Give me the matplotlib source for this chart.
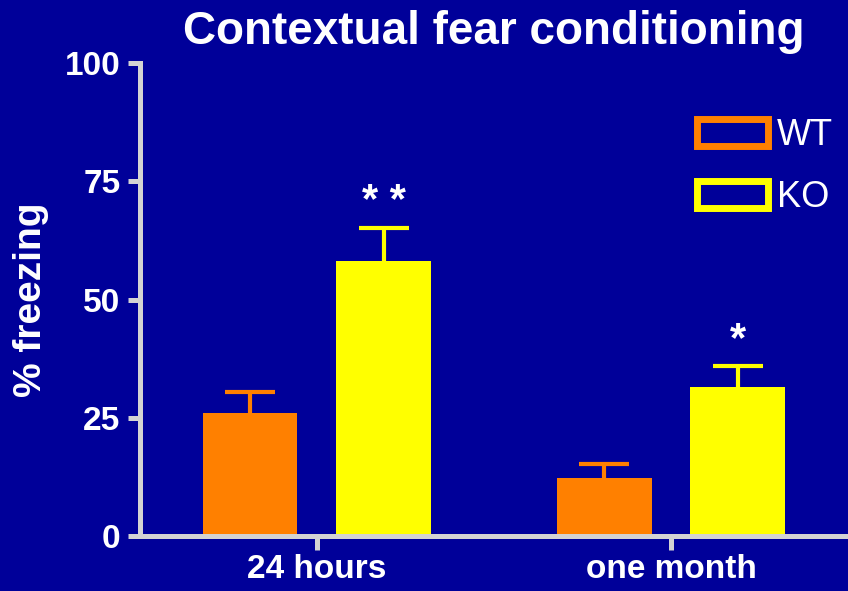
import numpy as np
from matplotlib import pyplot as plt
from matplotlib.patches import Patch

plt.rcParams['font.family'] = ['Liberation Sans', 'DejaVu Sans']

groups = ["24 hours", "one month"]
series = ["WT", "KO"]
wt_mean = [26, 12.3]
wt_err = [4.4, 2.9]
ko_mean = [58.1, 31.5]
ko_err = [7.0, 4.5]
stars = ["", "* *", "", "*"]  # WT 24h, KO 24h, WT 1mo, KO 1mo

bg = "#000099"
grey = "#d3d3d3"
orange = "#ff8000"
yellow = "#ffff00"

fig = plt.figure(figsize=(8.48, 5.91), dpi=100, facecolor=bg)
ax = fig.add_axes([0.165, 0.093, 0.835, 0.800])
ax.set_facecolor(bg)

x = np.arange(len(groups))
off = 0.189
w = 0.268
cap = 0.07

for i, (means, errs, col) in enumerate([(wt_mean, wt_err, orange), (ko_mean, ko_err, yellow)]):
    xs = x + (-off if i == 0 else off)
    tops = np.array(means) + np.array(errs)
    ax.bar(xs, means, w, color=col, zorder=2)
    # upward-only error bars
    ax.vlines(xs, means, tops, color=col, linewidth=3, zorder=1)
    ax.hlines(tops, xs - cap, xs + cap, color=col, linewidth=3, zorder=1)

# significance marks
for j, g in enumerate(x):
    for i, (means, errs) in enumerate([(wt_mean, wt_err), (ko_mean, ko_err)]):
        s = stars[j * 2 + i]
        if s:
            xs = g + (-off if i == 0 else off)
            ax.text(xs, means[j] + errs[j] + 5.5, s, color="white", fontsize=30,
                    fontweight="bold", ha="center", va="center")

ax.set_xlim(-0.5, 1.5)
ax.set_ylim(0, 100)
ax.set_yticks([0, 25, 50, 75, 100])
ax.set_xticks(x)
ax.set_xticklabels(groups)

for s in ["top", "right"]:
    ax.spines[s].set_visible(False)
for s in ["left", "bottom"]:
    ax.spines[s].set_color(grey)
    ax.spines[s].set_linewidth(3.6)
    ax.spines[s].set_zorder(3)
ax.tick_params(axis="y", colors=grey, width=3.6, length=9, labelcolor="white",
               labelsize=24, pad=5)
ax.tick_params(axis="x", colors=grey, width=3.6, length=10, labelcolor="white",
               labelsize=24, pad=3)
for lab in ax.get_xticklabels() + ax.get_yticklabels():
    lab.set_fontweight("bold")

ax.set_ylabel("% freezing", color="white", fontsize=28, fontweight="bold", labelpad=11)
ax.set_title("Contextual fear conditioning", color="white", fontsize=33,
             fontweight="bold", pad=14)

handles = [Patch(facecolor="none", edgecolor=orange, linewidth=5),
           Patch(facecolor="none", edgecolor=yellow, linewidth=5)]
leg = ax.legend(handles, series, loc="upper right", bbox_to_anchor=(0.999, 0.915),
                frameon=False, fontsize=26, handlelength=1.95, handleheight=0.75,
                handletextpad=0.25, labelspacing=0.75, labelcolor="white",
                borderaxespad=0)

fig.savefig("out.png", dpi=100, facecolor=bg)
